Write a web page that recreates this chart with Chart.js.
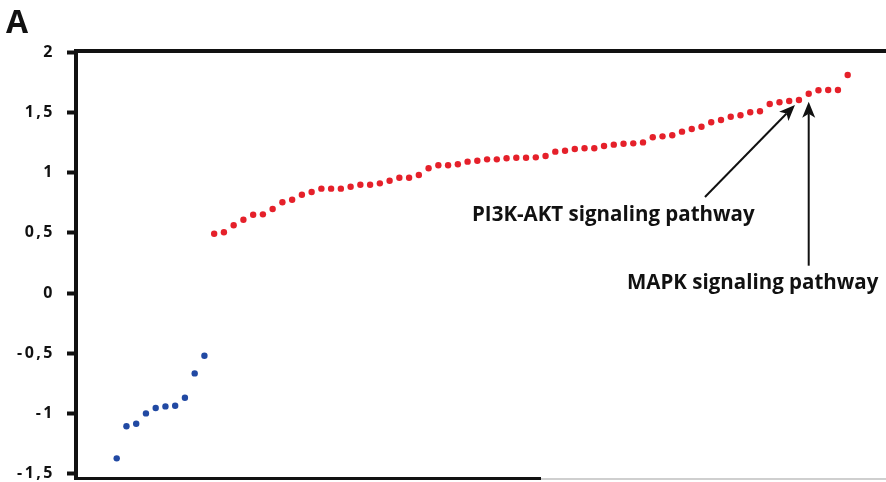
<!DOCTYPE html>
<html><head><meta charset="utf-8">
<script src="https://cdn.jsdelivr.net/npm/chart.js@4/dist/chart.umd.min.js"></script>
<style>html,body{margin:0;padding:0;background:#fff}#wrap{width:886px;height:482px;position:relative}</style>
</head><body><div id="wrap"><canvas id="c" width="886" height="482"></canvas></div>
<script>
const panelLabel = 'A';
const yTickValues = [-1.5, -1, -0.5, 0, 0.5, 1, 1.5, 2];
const downregulated = [-1.372, -1.106, -1.085, -0.999, -0.954, -0.941, -0.935, -0.869, -0.667, -0.52];
const upregulated = [
  0.492, 0.504, 0.562, 0.608, 0.650, 0.653, 0.697, 0.753, 0.774, 0.816, 0.838, 0.866, 0.866, 0.866, 0.882, 0.899, 0.899, 0.910, 0.932, 0.957, 0.957, 0.979,
  1.035, 1.060, 1.060, 1.068, 1.090, 1.098, 1.109, 1.109, 1.118, 1.123, 1.123, 1.126, 1.137, 1.173, 1.181, 1.195, 1.201, 1.201, 1.220, 1.231, 1.239, 1.242,
  1.250, 1.292, 1.300, 1.309, 1.339, 1.361, 1.380, 1.417, 1.436, 1.463, 1.475, 1.500, 1.508, 1.568, 1.583, 1.593, 1.602, 1.654, 1.682, 1.685, 1.685, 1.809
];
const annotationTexts = ['PI3K-AKT signaling pathway', 'MAPK signaling pathway'];
const annotationTargets = [70, 71]; // rank index of highlighted pathways

const downPts = downregulated.map((v, i) => ({x: i, y: v}));
const upPts = upregulated.map((v, i) => ({x: i + downregulated.length, y: v}));

const FONT = '"Open Sans", "DejaVu Sans", sans-serif';

function arrow(ctx, x1, y1, x2, y2) {
  const ang = Math.atan2(y2 - y1, x2 - x1);
  const hl = 16, hw = 6.5;
  const bx = x2 - hl * Math.cos(ang), by = y2 - hl * Math.sin(ang);
  ctx.beginPath();
  ctx.moveTo(x1, y1);
  ctx.lineTo(bx + 4 * Math.cos(ang), by + 4 * Math.sin(ang));
  ctx.lineWidth = 2;
  ctx.strokeStyle = '#111';
  ctx.stroke();
  ctx.beginPath();
  ctx.moveTo(x2, y2);
  ctx.lineTo(bx + hw * Math.sin(ang), by - hw * Math.cos(ang));
  ctx.lineTo(bx + hl * 0.25 * Math.cos(ang), by + hl * 0.25 * Math.sin(ang));
  ctx.lineTo(bx - hw * Math.sin(ang), by + hw * Math.cos(ang));
  ctx.closePath();
  ctx.fillStyle = '#111';
  ctx.fill();
}

const framePlugin = {
  id: 'frame',
  beforeDraw(chart) {
    if ('letterSpacing' in chart.ctx) chart.ctx.letterSpacing = '2.5px';
  },
  beforeDatasetsDraw(chart) {
    const {ctx, chartArea: a} = chart;
    ctx.save();
    ctx.strokeStyle = '#111';
    ctx.lineWidth = 4;
    ctx.beginPath();
    ctx.moveTo(a.left, a.bottom + 1);
    ctx.lineTo(a.left, a.top);
    ctx.lineTo(a.right, a.top);
    ctx.stroke();
    ctx.lineWidth = 3;
    ctx.beginPath();
    ctx.moveTo(a.left - 2, a.bottom + 0.5);
    ctx.lineTo(541, a.bottom + 0.5);
    ctx.stroke();
    ctx.strokeStyle = '#cfcfcf';
    ctx.lineWidth = 2;
    ctx.beginPath();
    ctx.moveTo(541, a.bottom + 1);
    ctx.lineTo(a.right, a.bottom + 1);
    ctx.stroke();
    ctx.restore();
  },
  afterDraw(chart) {
    const {ctx} = chart;
    if ('letterSpacing' in ctx) ctx.letterSpacing = '0px';
    const xs = chart.scales.x, ys = chart.scales.y;
    const all = downregulated.concat(upregulated);
    ctx.save();
    ctx.fillStyle = '#111';
    ctx.font = 'bold 32px ' + FONT;
    ctx.textBaseline = 'alphabetic';
    ctx.fillText(panelLabel, 6, 33);
    const t0 = annotationTargets[0], t1 = annotationTargets[1];
    const p0x = xs.getPixelForValue(t0), p0y = ys.getPixelForValue(all[t0]);
    const p1x = xs.getPixelForValue(t1), p1y = ys.getPixelForValue(all[t1]);
    arrow(ctx, p0x - 94, p0y + 97, p0x - 4, p0y + 5);
    arrow(ctx, p1x, p1y + 172, p1x, p1y + 8);
    ctx.font = 'bold 20.5px ' + FONT;
    ctx.fillText(annotationTexts[0], 472, 221);
    ctx.fillText(annotationTexts[1], 627, 289);
    ctx.restore();
  }
};

new Chart(document.getElementById('c'), {
  type: 'scatter',
  data: {
    datasets: [
      {label: 'down', data: downPts, backgroundColor: '#2149a3', borderColor: '#2149a3', pointRadius: 3.2, pointBorderWidth: 0},
      {label: 'up', data: upPts, backgroundColor: '#e5202a', borderColor: '#e5202a', pointRadius: 3.2, pointBorderWidth: 0}
    ]
  },
  options: {
    responsive: false,
    devicePixelRatio: 1,
    animation: false,
    layout: {autoPadding: false, padding: {top: 51, bottom: 4, left: 0, right: 0}},
    plugins: {legend: {display: false}, tooltip: {enabled: false}},
    scales: {
      x: {type: 'linear', display: false, min: -4.176, max: 78.93},
      y: {
        type: 'linear', min: -1.535, max: 2.0083,
        afterFit(s) { s.width = 76; s.paddingTop = 0; s.paddingBottom = 0; s.paddingLeft = 0; s.paddingRight = 0; },
        afterBuildTicks(s) { s.ticks = yTickValues.map(v => ({value: v})); },
        border: {display: false},
        grid: {drawOnChartArea: false, drawTicks: true, tickLength: 9, tickWidth: 4, tickColor: '#111'},
        ticks: {
          padding: 12, color: '#111',
          font: {family: FONT, size: 16, weight: 'bold'},
          callback: v => String(v).replace('.', ',')
        }
      }
    }
  },
  plugins: [framePlugin]
});
</script>
</body></html>
